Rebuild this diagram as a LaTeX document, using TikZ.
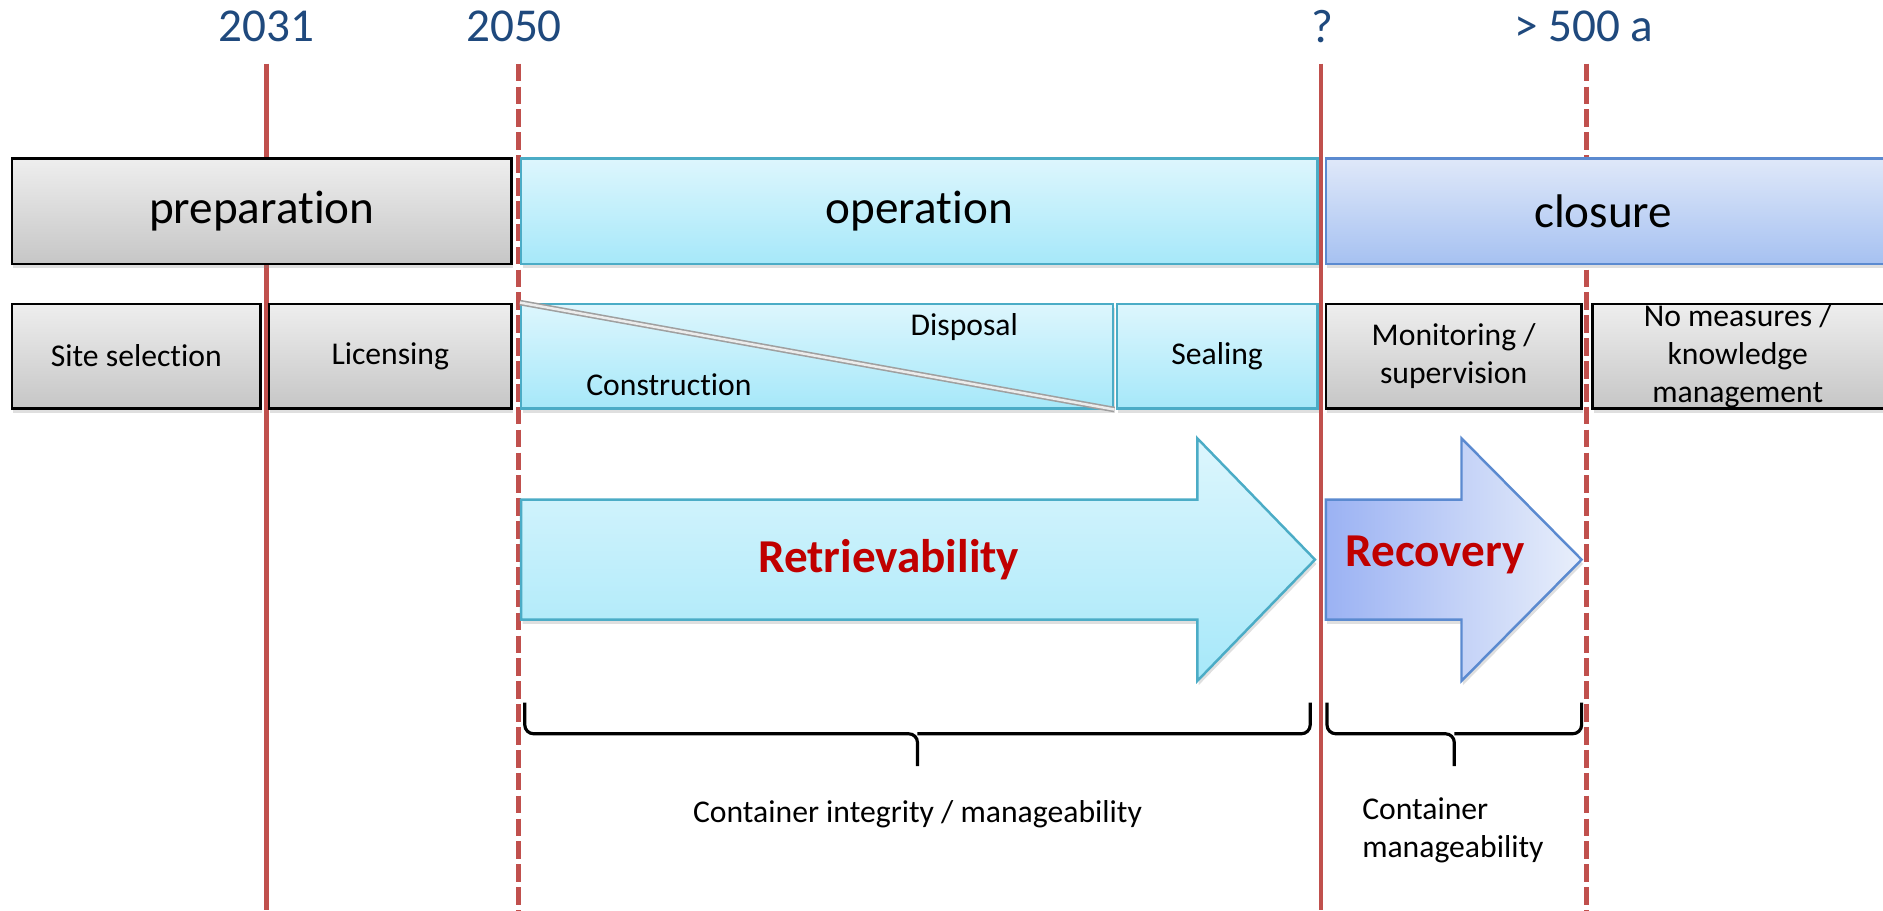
\documentclass[tikz,border=0pt]{standalone}
\usepackage{fontspec}
\setmainfont{Carlito}[Ligatures=NoCommon]
\usetikzlibrary{fit,shadows}

\definecolor{tred}{HTML}{C0504D}
\definecolor{yearblue}{HTML}{1F497D}
\definecolor{redtext}{HTML}{C00000}
\definecolor{graytop}{HTML}{EEEEEE}
\definecolor{graybot}{HTML}{C6C6C6}
\definecolor{cyantop}{HTML}{DDF6FD}
\definecolor{cyanbot}{HTML}{A6E8F9}
\definecolor{cyanedge}{HTML}{4BACC6}
\definecolor{bluetop}{HTML}{DFE8F9}
\definecolor{bluebot}{HTML}{A6C1F1}
\definecolor{blueedge}{HTML}{5B8AD0}

\begin{document}
\begin{tikzpicture}[
        x=0.012cm, y=-0.012cm,
        font=\fontsize{13.4}{16}\selectfont
    ]
    \tikzset{
        yearlbl/.style = {text=yearblue},
        tline/.style = {line width=1.4pt, tred},
        tlined/.style = {tline, dash pattern=on 5pt off 1.5pt},
        phasebox/.style = {rectangle, inner sep=0pt, line width=0.7pt,
            drop shadow={opacity=0.25, shadow xshift=0.4pt, shadow yshift=-1.2pt}},
        graybox/.style = {phasebox, draw=black, top color=graytop, bottom color=graybot},
        cyanbox/.style = {phasebox, draw=cyanedge, top color=cyantop, bottom color=cyanbot},
        bluebox/.style = {phasebox, draw=blueedge, top color=bluetop, bottom color=bluebot},
        sublbl/.style = {font=\fontsize{9}{10.8}\selectfont, align=center},
        arrowlbl/.style = {font=\fontsize{13.4}{16}\selectfont\bfseries, text=redtext},
        diagline/.style = {draw=gray!75, double=gray!15, double distance=0.7pt, line width=0.45pt},
        bracel/.style = {line width=0.9pt, rounded corners=2.5pt},
    }
    \clip (0,0) rectangle (1568,758);
    % time marks
    \node[yearlbl] (y2031) at (222,22) {2031};
    \node[yearlbl] (y2050) at (428,22) {2050};
    \node[yearlbl] (yq) at (1101,22) {?};
    \node[yearlbl] (y500) at (1319,22) {> 500 a};
    \draw[tline] (222,53) -- (222,758);
    \draw[tlined] (432,53) -- (432,758);
    \draw[tline] (1100,53) -- (1100,758);
    \draw[tlined] (1321,53) -- (1321,758);
    % phases
    \node[graybox, fit={(10,132) (426,220)}] (prep) {};
    \node[cyanbox, fit={(434,132) (1097,220)}] (oper) {};
    \node[bluebox, fit={(1104,132) (1580,220)}] (clos) {};
    \node at (prep.center) {preparation};
    \node at (oper.center) {operation};
    \node at (clos.center -| 1335,0) {closure};
    % steps
    \node[graybox, fit={(10,253) (217,340)}] (site) {};
    \node[graybox, fit={(224,253) (426,340)}] (lic) {};
    \node[cyanbox, fit={(434,253) (927,340)}] (cons) {};
    \node[cyanbox, fit={(930,253) (1097,340)}] (seal) {};
    \node[graybox, fit={(1104,253) (1317,340)}] (moni) {};
    \node[graybox, fit={(1326,253) (1580,340)}] (nome) {};
    \draw[diagline] (cons.north west) -- (cons.south east);
    \node[sublbl] at (site.center) {Site selection};
    \node[sublbl] at (lic.center) {Licensing};
    \node[sublbl] (consl) at (557,320) {Construction};
    \node[sublbl] (disp) at (803,272) {Disposal};
    \node[sublbl] at (seal.center) {Sealing};
    \node[sublbl] at (moni.center) {Monitoring /\\supervision};
    \node[sublbl] (nomel) at (1447,297) {No measures /\\knowledge\\management};
    % arrows
    \draw[phasebox, draw=cyanedge, top color=cyantop, bottom color=cyanbot]
        (434,416) -- (997,416) -- (997,365) -- (1095,466)
        -- (997,567) -- (997,516) -- (434,516) -- cycle;
    \node[arrowlbl] (retr) at (740,466) {Retrievability};
    \draw[phasebox, draw=blueedge, left color=bluebot!90!blue!95, right color=bluetop!70!white]
        (1104,416) -- (1217,416) -- (1217,365) -- (1317,466)
        -- (1217,567) -- (1217,516) -- (1104,516) -- cycle;
    \node[arrowlbl] (reco) at (1195,462) {Recovery};
    % braces
    \draw[bracel] (437,585) |- (764,611) -- (764,638);
    \draw[bracel] (1091,585) |- (764,611);
    \node[sublbl] (integ) at (764,678) {Container integrity / manageability};
    \draw[bracel] (1105,585) |- (1211,611) -- (1211,638);
    \draw[bracel] (1317,585) |- (1211,611);
    \node[sublbl, align=left, anchor=west] (manag) at (1124,691) {Container\\manageability};
\end{tikzpicture}
\end{document}
